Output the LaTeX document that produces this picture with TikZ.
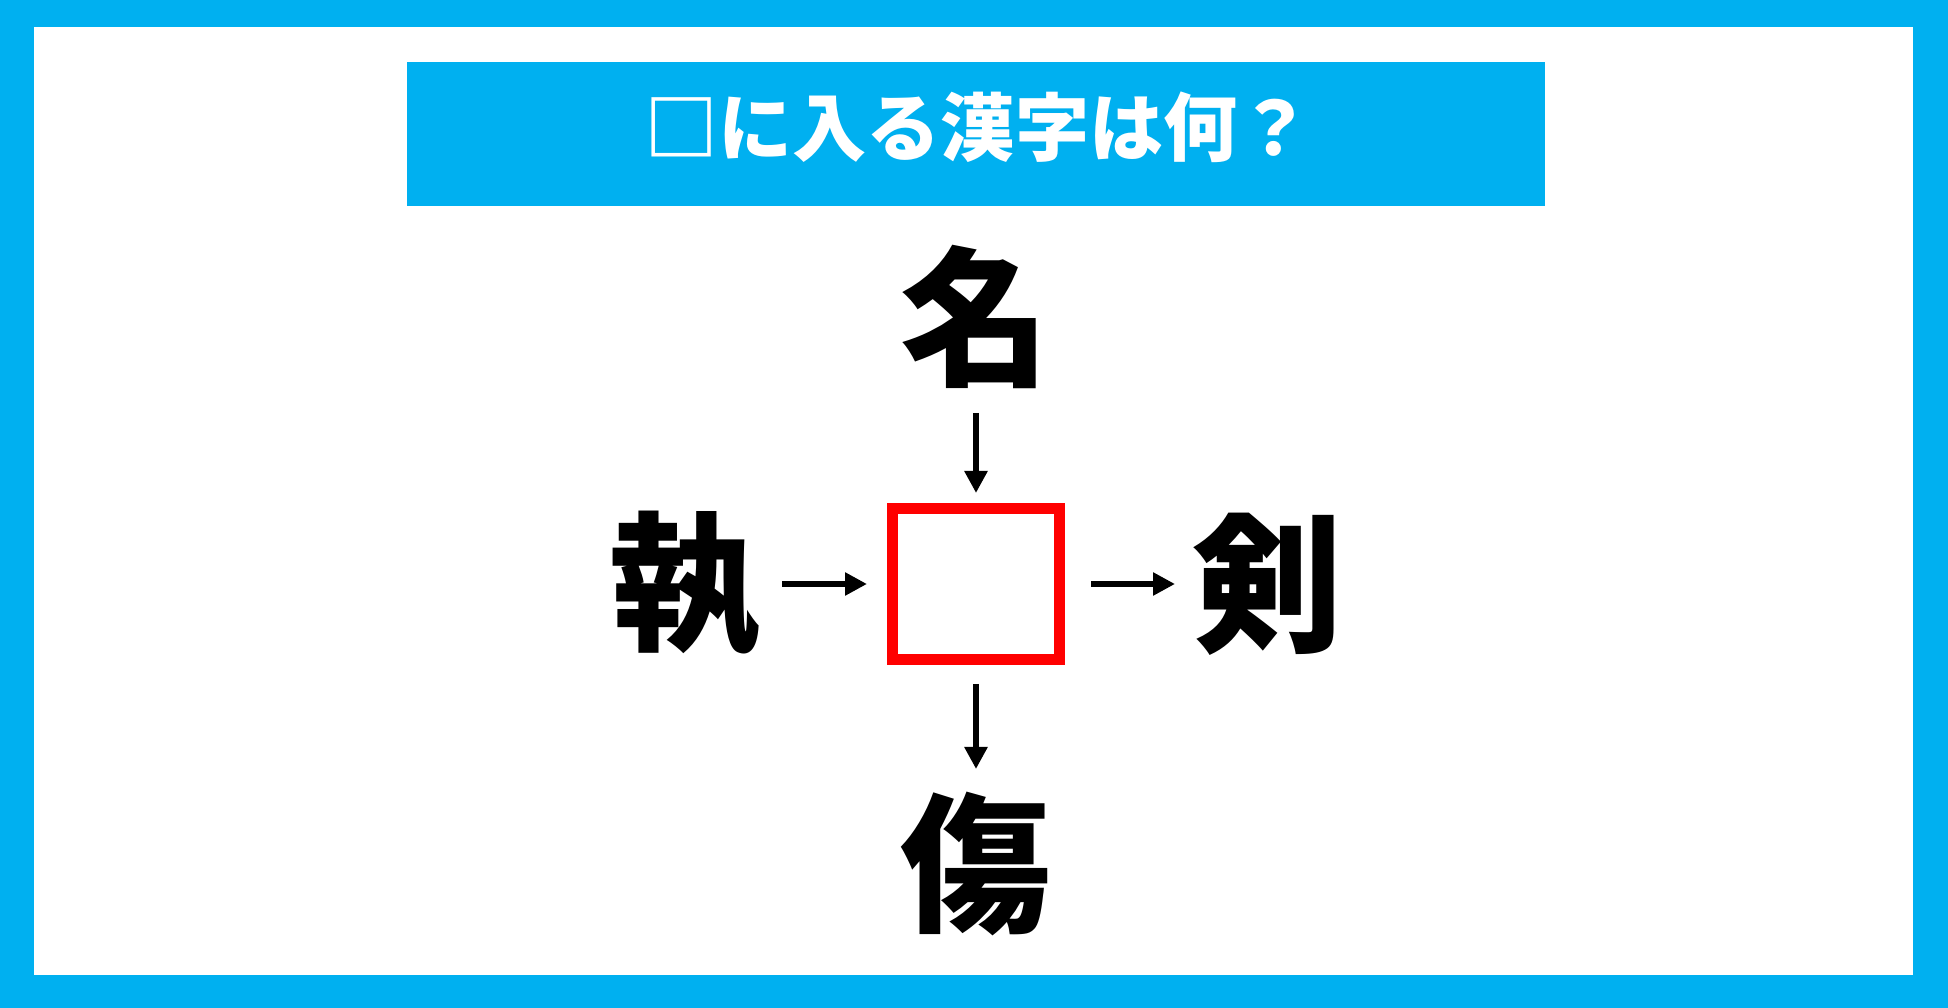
\documentclass[tikz,border=0pt]{standalone}
\usepackage{fontspec}
\newfontfamily\jpfont{Noto Sans CJK JP}
\usepackage{tikz}
\usetikzlibrary{positioning,arrows.meta}
\definecolor{quizblue}{RGB}{0,176,240}
\definecolor{quizred}{RGB}{255,0,0}

\begin{document}
\begin{tikzpicture}[x=1cm,y=1cm,
	kanji/.style={inner sep=0pt,font=\jpfont\bfseries\fontsize{42.7pt}{42.7pt}\selectfont},
	blank box/.style={draw=quizred,line width=0.11cm,minimum width=1.67cm,minimum height=1.51cm,inner sep=0pt},
	arr/.style={-{Triangle[length=0.22cm,width=0.22cm]},line width=0.055cm}]

	% frame and title bar
	\useasboundingbox (0,0) rectangle (19.48,-10.08);
	\fill[quizblue] (0,0) rectangle (19.48,-10.08);
	\fill[white] (0.34,-0.27) rectangle (19.13,-9.75);
	\fill[quizblue] (4.07,-0.62) rectangle (15.45,-2.06);
	\node[text=white,inner sep=0pt,font=\jpfont\bfseries\fontsize{21.1pt}{21.1pt}\selectfont] (title) at (9.78,-1.27) {□に入る漢字は何？};

	% square and the four kanji
	\node[blank box] (box) at (9.76,-5.84) {};
	\node[kanji] (top) [above=1.14cm of box] {名};
	\node[kanji] (bottom) [below=1.26cm of box] {傷};
	\node[kanji] (left) [left=1.27cm of box] {執};
	\node[kanji] (right) [right=1.27cm of box] {剣};

	\path[arr]
	(top) edge [shorten <=0.24cm,shorten >=0.10cm] (box)
	(box) edge [shorten <=0.19cm,shorten >=0.22cm] (bottom)
	(left) edge [shorten <=0.22cm,shorten >=0.20cm] (box)
	(box) edge [shorten <=0.26cm,shorten >=0.17cm] (right)
	;
\end{tikzpicture}
\end{document}
